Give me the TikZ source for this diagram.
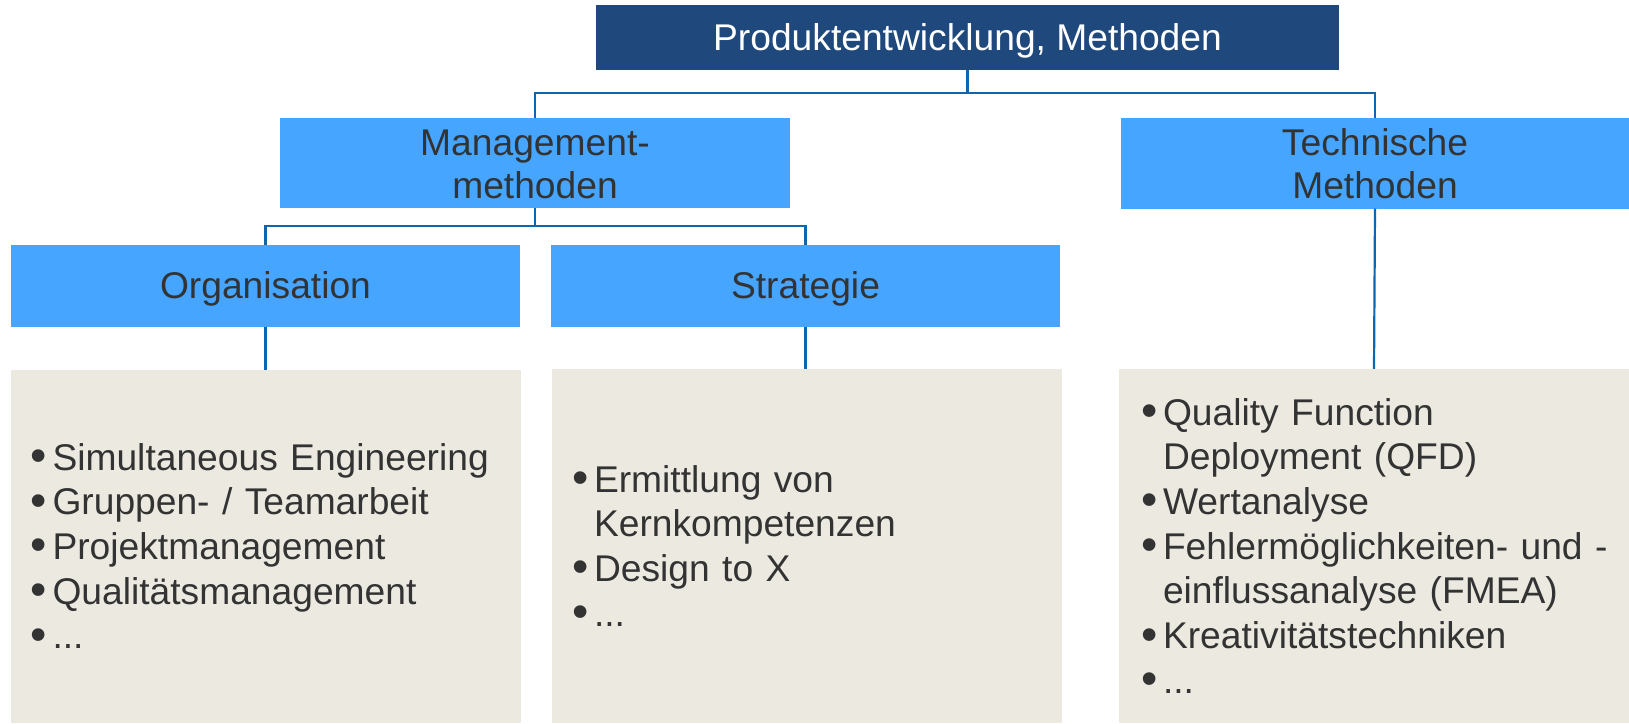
\documentclass[tikz,border=0pt]{standalone}
\usepackage{fontspec}
\setmainfont{Liberation Sans}
\definecolor{topblue}{RGB}{31,73,125}
\definecolor{boxblue}{RGB}{69,165,255}
\definecolor{greybg}{RGB}{236,234,224}
\definecolor{txtgray}{RGB}{51,51,51}
\definecolor{linkblue}{RGB}{14,102,175}
\newcommand{\bl}{\makebox[22pt][l]{\raisebox{-1.5pt}{\scalebox{1.25}{•}}}}
\newcommand{\ind}{\hspace*{22pt}}
\begin{document}
\begin{tikzpicture}[x=1pt,y=-1pt,
  hfont/.style={font=\fontsize{37.2}{43}\selectfont},
  topbox/.style={fill=topblue, text=white, inner sep=0pt, minimum width=743pt,
    minimum height=64.5pt, hfont, text height=27pt, text depth=0pt},
  catbox/.style={fill=boxblue, text=txtgray, inner sep=0pt, hfont, align=center},
  listbox/.style={fill=greybg, text=txtgray, inner ysep=0pt, inner xsep=20pt,
    text width=470pt, align=left, font=\fontsize{37.2}{44.7}\selectfont, text height=26pt},
  link/.style={draw=linkblue, line width=2.2pt}
]
\fill[white] (0,0) rectangle (1629,723);
\useasboundingbox (0,0) rectangle (1629,723);

\node[topbox] (top) at (967.5,37.25) {Produktentwicklung, Methoden};
\node[catbox, minimum width=510pt, minimum height=89.5pt, text height=70.5pt, text depth=0pt]
  (mgmt) at (535,162.75) {Management-\\methoden};
\node[catbox, minimum width=508pt, minimum height=90.5pt, text height=69.5pt, text depth=0pt]
  (tech) at (1375,163.25) {Technische\\Methoden};
\node[catbox, minimum width=509pt, minimum height=82pt, text height=26pt, text depth=2pt]
  (org) at (265.5,286) {Organisation};
\node[catbox, minimum width=509pt, minimum height=82pt, text height=26pt, text depth=2pt]
  (strat) at (805.5,286) {Strategie};

\node[listbox, minimum width=509pt, minimum height=353pt, text depth=179pt]
  (orgc) at (265.5,546.5) {\bl Simultaneous Engineering\\
  \bl Gruppen- / Teamarbeit\\
  \bl Projektmanagement\\
  \bl Qualitätsmanagement\\
  \bl ...};
\node[listbox, minimum width=510pt, minimum height=354pt, text depth=134pt]
  (stratc) at (807,546) {\bl Ermittlung von\\
  \ind Kernkompetenzen\\
  \bl Design to X\\
  \bl ...};
\node[listbox, inner xsep=22pt, text width=466pt, minimum width=510pt, minimum height=354pt, text depth=268pt]
  (techc) at (1374,546) {\bl Quality Function\\
  \ind Deployment (QFD)\\
  \bl Wertanalyse\\
  \mbox{\bl Fehlermöglichkeiten- und -}\\
  \ind einflussanalyse (FMEA)\\
  \bl Kreativitätstechniken\\
  \bl ...};

\coordinate (j1) at (967.5,93);
\coordinate (j2) at (535,226);
\draw[link] (top.south) -- (top.south |- j1);
\draw[link] (mgmt.north) -- (mgmt.north |- j1) -- (tech.north |- j1) -- (tech.north);
\draw[link] (mgmt.south) -- (mgmt.south |- j2);
\draw[link] (org.north) -- (org.north |- j2) -- (strat.north |- j2) -- (strat.north);
\draw[link] (org.south) -- (orgc.north);
\draw[link] (strat.south) -- (strat.south |- stratc.north);
\draw[link] (tech.south) -- (techc.north);
\end{tikzpicture}
\end{document}
